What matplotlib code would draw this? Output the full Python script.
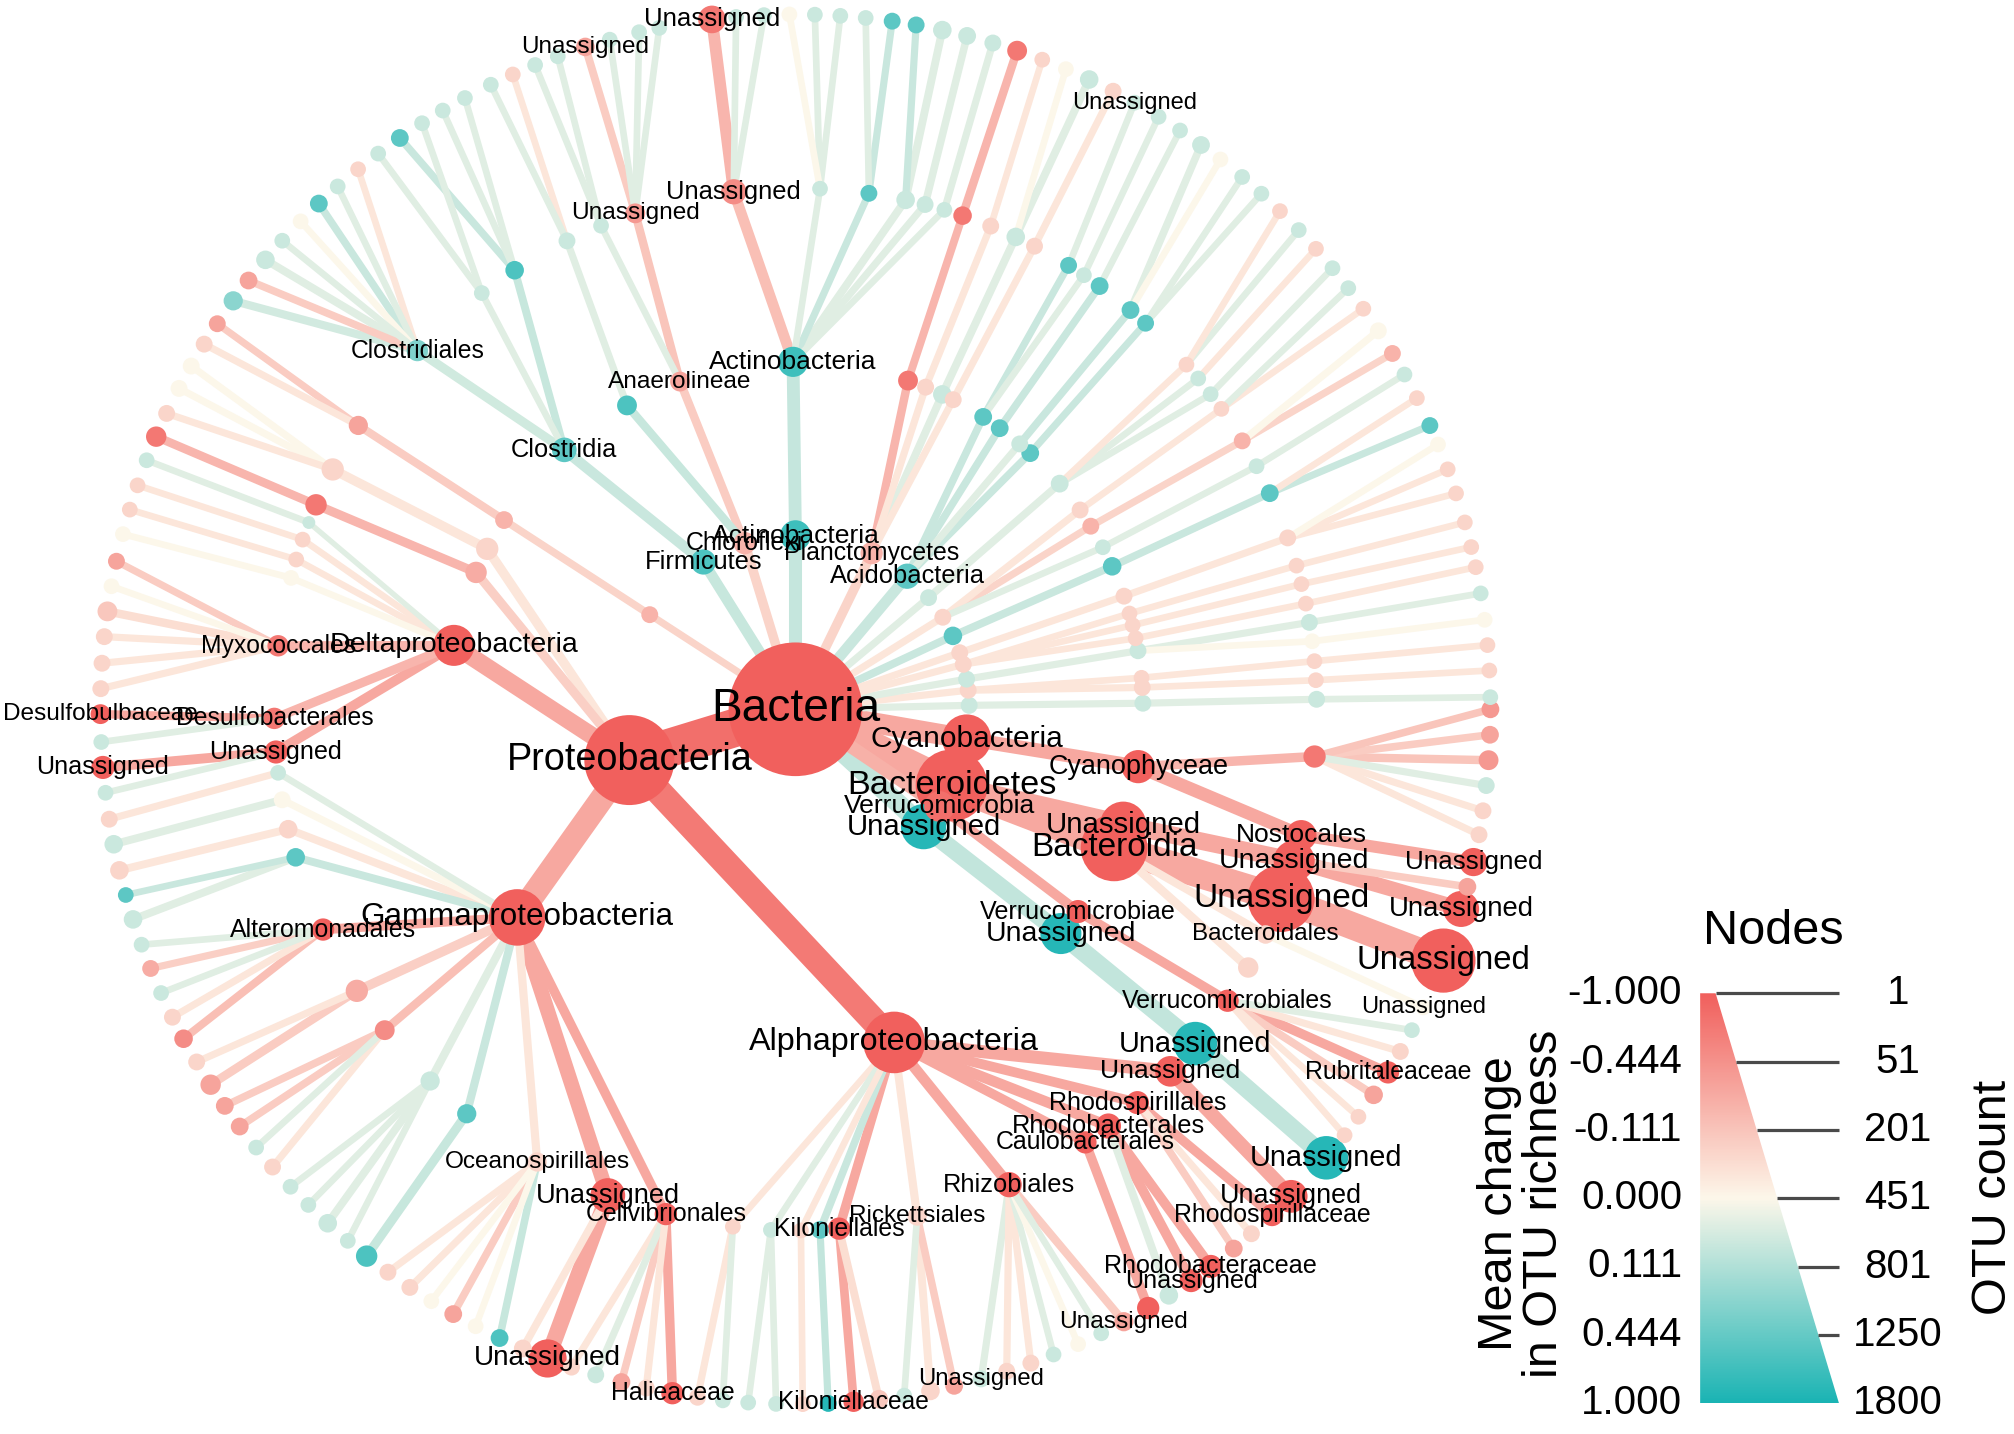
import numpy as np
import matplotlib
matplotlib.use("Agg")
import matplotlib.pyplot as plt
from matplotlib.patches import Circle, Polygon
from matplotlib.collections import LineCollection, PatchCollection
from matplotlib.colors import LinearSegmentedColormap

plt.rcParams['font.family'] = ['Liberation Sans', 'DejaVu Sans']

# ---------------- internal taxa (nodes that have children / named ranks) ----------------
int_id = [
    "bac",
    "pro", "bct", "cya", "ver", "unp", "act", "chl", "fir", "pla", "aci",
    "a1", "a2", "a3", "a4", "a5", "a6", "a7", "a8", "a10",
    "b1", "b2a", "b2b", "b3", "b4a", "b4b", "b4c", "b5", "b6", "b7a",
    "b7b", "b7c", "b8", "b9a", "b9b", "b9c", "b9d", "b10a", "b10b", "b10c",
    "b10d", "acc", "ana", "b12", "cla", "b14",
    "c1", "c2a", "c2b", "c3a", "c3b", "c4a", "c4b", "c4c", "c5", "c6",
    "c7a", "c7b", "c7c", "c8a", "c8b", "c8c", "c9a", "c9b", "c9c", "c9d",
    "c9e", "c10a", "c10b", "c10c", "c10d", "c11a", "c11b", "c11c", "c11d", "c11e",
    "c11f", "c12a", "c12b", "c12d", "c13a", "c13b", "clo", "c14",
    "pb1", "pb2", "del", "gam", "alp",
    "c15", "c16", "c17a", "c17b", "c17c", "c17d", "myx", "dsb", "dun", "c18a",
    "c18b", "c18c", "c18d", "alt", "c18e", "c18f", "c18g", "c18h", "oce", "gun",
    "cel", "c19a", "c19b", "c19c", "c19d", "kil", "ric", "rhi", "cau", "rhb",
    "rhs", "aun",
    "vcl", "u2", "bid", "bun2", "cyp",
    "vor", "u3", "bun3", "bdl", "c20", "bun3b", "nos", "c21",
]
int_parent = [
    None,
    "bac", "bac", "bac", "bac", "bac", "bac", "bac", "bac", "bac", "bac",
    "bac", "bac", "bac", "bac", "bac", "bac", "bac", "bac", "bac",
    "a1", "a2", "a2", "a3", "a4", "a4", "a4", "a5", "a6", "a7",
    "a7", "a7", "a8", "aci", "aci", "aci", "aci", "pla", "pla", "pla",
    "pla", "act", "chl", "chl", "fir", "a10",
    "b1", "b2a", "b2b", "b3", "b3", "b4a", "b4b", "b4c", "b5", "b6",
    "b7a", "b7b", "b7c", "b8", "b8", "b8", "b9a", "b9b", "b9c", "b9d",
    "b9d", "b10a", "b10b", "b10c", "b10d", "acc", "acc", "acc", "acc", "acc",
    "acc", "ana", "ana", "b12", "cla", "cla", "cla", "b14",
    "pro", "pro", "pro", "pro", "pro",
    "pb1", "pb2", "del", "del", "del", "del", "del", "del", "del", "gam",
    "gam", "gam", "gam", "gam", "gam", "gam", "gam", "gam", "gam", "gam",
    "gam", "alp", "alp", "alp", "alp", "alp", "alp", "alp", "alp", "alp",
    "alp", "alp",
    "ver", "unp", "bct", "bct", "cya",
    "vcl", "u2", "bid", "bid", "bid", "bun2", "cyp", "cyp",
]
int_label = [
    "Bacteria",
    "Proteobacteria", "Bacteroidetes", "Cyanobacteria", "Verrucomicrobia", "Unassigned",
    "Actinobacteria", "Chloroflexi", "Firmicutes", "Planctomycetes", "Acidobacteria",
    "", "", "", "", "", "", "", "", "",
    "", "", "", "", "", "", "", "", "", "",
    "", "", "", "", "", "", "", "", "", "",
    "", "Actinobacteria", "Anaerolineae", "", "Clostridia", "",
    "", "", "", "", "", "", "", "", "", "",
    "", "", "", "", "", "", "", "", "", "",
    "", "", "", "", "", "", "", "", "", "",
    "Unassigned", "Unassigned", "", "", "", "", "Clostridiales", "",
    "", "", "Deltaproteobacteria", "Gammaproteobacteria", "Alphaproteobacteria",
    "", "", "", "", "", "", "Myxococcales", "Desulfobacterales", "Unassigned", "",
    "", "", "", "Alteromonadales", "", "", "", "", "Oceanospirillales", "Unassigned",
    "Cellvibrionales", "", "", "", "", "Kiloniellales", "Rickettsiales", "Rhizobiales", "Caulobacterales", "Rhodobacterales",
    "Rhodospirillales", "Unassigned",
    "Verrucomicrobiae", "Unassigned", "Bacteroidia", "Unassigned", "Cyanophyceae",
    "Verrucomicrobiales", "Unassigned", "Unassigned", "Bacteroidales", "", "Unassigned", "Nostocales", "",
]
int_angle = [
    0,
    197, 334, 350.2, 326, 317.5, 90, 107, 122, 64, 50,
    1.3, 6.3, 10, 15, 19, 25, 32, 40, 147,
    1.0, 3.6, 5.2, 9.7, 11.8, 14.0, 16.0, 19.0, 24.3, 27.8,
    31.8, 35.0, 40.5, 47.5, 49.8, 54.0, 57.3, 63.0, 65.0, 68.0,
    71.1, 90.4, 109.4, 119.0, 131.7, 147.0,
    1.1, 3.2, 5.3, 7.5, 9.6, 11.7, 13.9, 16.0, 19.2, 24.5,
    27.8, 31.0, 35.2, 37.2, 39.4, 41.4, 47.8, 50.0, 54.3, 56.4,
    58.4, 62.7, 65.0, 68.0, 71.3, 73.4, 75.6, 77.8, 81.9, 87.3,
    96.8, 107.9, 111.9, 116.0, 122.6, 127.0, 136.5, 147.0,
    152.5, 156.8, 169.4, 216.8, 286.5,
    152.6, 156.9, 159.0, 161.0, 163.3, 165.4, 173.0, 181.0, 184.7, 187.0,
    190.0, 193.3, 196.5, 205.0, 212.7, 218.0, 225.5, 230.9, 240.3, 248.9,
    255.6, 263.1, 267.3, 270.6, 272.7, 274.8, 283.5, 294.2, 303.8, 306.9,
    311.0, 316.0,
    324.4, 319.8, 336.5, 340.6, 350.5,
    326.0, 320.1, 338.7, 334.4, 330.3, 343.1, 346.0, 354.8,
]
int_count = [
    1800,
    734, 430, 161, 40, 130, 40, 12, 20, 12, 20,
    3, 3, 3, 3, 3, 5, 3, 3, 3,
    3, 3, 2, 3, 2, 2, 2, 3, 5, 2,
    3, 3, 4, 4, 3, 4, 4, 3, 5, 3,
    7, 38, 7, 7, 18, 4,
    3, 2, 2, 2, 3, 2, 2, 2, 3, 4,
    2, 3, 2, 2, 2, 2, 3, 4, 4, 2,
    3, 3, 5, 3, 5, 2, 3, 5, 3, 2,
    20, 7, 2, 3, 5, 2, 10, 6,
    12, 10, 99, 236, 294,
    12, 10, 1, 2, 2, 2, 10, 10, 14, 2,
    3, 5, 5, 12, 12, 7, 6, 6, 6, 60,
    12, 2, 2, 2, 4, 12, 6, 20, 12, 20,
    14, 40,
    14, 99, 360, 138, 52,
    12, 117, 360, 5, 8, 99, 40, 12,
]
int_change = [
    -1.0,
    -1.0, -1.0, -1.0, -0.8, 0.9, 0.7, -0.2, 0.6, -0.2, 0.5,
    0.05, -0.05, 0.05, -0.05, -0.05, 0.5, -0.05, 0.05, -0.2,
    0.05, -0.05, -0.05, 0.05, -0.05, -0.05, -0.05, -0.05, 0.5, 0.05,
    -0.2, -0.05, 0.05, 0.5, 0.05, 0.5, 0.5, -0.05, 0.05, -0.05,
    -0.7, 0.7, -0.3, 0.6, 0.5, -0.2,
    0.05, -0.05, -0.05, 0.0, 0.05, -0.05, -0.05, -0.05, -0.05, 0.5,
    0.05, -0.2, -0.05, 0.05, 0.05, -0.05, 0.5, 0.5, 0.5, 0.05,
    0.5, -0.05, 0.05, -0.05, -0.7, 0.05, 0.05, 0.05, 0.5, 0.05,
    -0.5, -0.4, 0.05, 0.05, 0.6, 0.05, 0.3, -0.3,
    -0.05, -0.25, -1.0, -1.0, -1.0,
    -0.05, -0.7, 0.05, -0.05, -0.05, 0.0, -0.7, -0.7, -1.0, 0.05,
    0.0, -0.05, 0.5, -1.0, -0.25, -0.5, 0.05, 0.5, -0.05, -1.0,
    -1.0, -0.05, 0.05, -0.05, 0.5, -1.0, -0.05, -1.0, -1.0, -1.0,
    -1.0, -1.0,
    -1.0, 0.9, -1.0, -1.0, -1.0,
    -1.0, 0.9, -1.0, -0.05, -0.05, -1.0, -1.0, -0.7,
]

# ---------------- terminal taxa (outer ring) ----------------
leaf_parent = [
    "c1", "c2a", "c2b", "c3a", "c3b", "c4a", "c4b", "c4c", "c5", "c5",
    "c5", "c6", "c6", "c7a", "c7b", "c7b", "c7c", "c7c", "c8a", "c8b",
    "c8c", "c8c", "c9a", "c9a", "c9b", "c9b", "c9c", "c9d", "c9e", "c10a",
    "c10b", "c10b", "c10c", "c10d", "c11a", "c11b", "c11c", "c11c", "c11d", "c11d",
    "c11e", "c11e", "c11e", "c11f", "c11f", "c11f", "c12a", "c12a", "c12a", "c12a",
    "c12b", "c12b", "c12d", "c12d", "c13a", "c13a", "c13b", "c13a", "c13b", "clo",
    "clo", "clo", "clo", "clo", "clo", "clo", "clo", "c14", "c14",
    "c15", "c15", "c15", "c16", "c17a", "c17b", "c17c", "c17d", "myx", "myx",
    "myx", "myx", "myx", "myx", "dsb", "dsb", "dun", "dun", "c18a", "c18b",
    "c18c", "c18d", "c18d", "alt", "alt", "alt", "alt", "alt", "c18e", "c18e",
    "c18f", "c18f", "c18f", "c18f", "c18g", "c18g", "c18g", "c18g", "c18h", "oce",
    "oce", "oce", "oce", "oce", "oce", "gun", "gun", "cel", "cel", "cel",
    "cel", "cel", "c19a", "c19a", "c19b", "c19b", "c19c", "c19d", "kil", "kil",
    "ric", "ric", "ric", "rhi", "rhi", "rhi", "rhi", "rhi", "rhi", "rhi",
    "cau", "rhb", "rhb", "rhb", "rhs", "rhs", "rhs", "aun",
    "vor", "vor", "vor", "vor", "vor", "vor", "u3", "bun3", "bdl", "bun3b",
    "bun3b", "nos", "c21", "c21", "c21", "c21", "c21", "c21",
]
leaf_label = [
    "", "", "", "", "", "", "", "", "", "",
    "", "", "", "", "", "", "", "", "", "",
    "", "", "", "", "", "", "", "", "Unassigned", "",
    "", "", "", "", "", "", "", "", "", "",
    "", "", "", "", "", "Unassigned", "", "", "", "Unassigned",
    "", "", "", "", "", "", "", "", "", "",
    "", "", "", "", "", "", "", "", "",
    "", "", "", "", "", "", "", "", "", "",
    "", "", "", "", "Desulfobulbaceae", "", "Unassigned", "", "", "",
    "", "", "", "", "", "", "", "", "", "",
    "", "", "", "", "", "", "", "", "", "",
    "", "", "", "", "", "", "Unassigned", "", "", "",
    "", "Halieaceae", "", "", "", "", "", "", "Kiloniellaceae", "",
    "", "", "", "Unassigned", "", "", "", "", "", "Unassigned",
    "", "", "Unassigned", "Rhodobacteraceae", "", "", "Rhodospirillaceae", "Unassigned",
    "", "", "", "Rubritaleaceae", "", "", "Unassigned", "Unassigned", "Unassigned", "Unassigned",
    "", "Unassigned", "", "", "", "", "", "",
]
leaf_angle = [
    1.0, 3.2, 5.3, 7.4, 9.6, 11.8, 13.5, 15.6, 18.1, 20.2,
    22.4, 24.1, 26.6, 28.8, 30.8, 33.0, 35.2, 37.3, 39.4, 41.5,
    43.6, 45.8, 47.9, 50.0, 52.3, 54.3, 56.4, 58.5, 60.8, 62.8,
    65.0, 67.1, 69.2, 71.4, 73.5, 75.7, 77.8, 80.0, 82.0, 84.2,
    86.3, 88.4, 90.5, 92.6, 94.9, 96.9, 101.3, 103.0, 105.5, 107.6,
    110.0, 112.0, 114.0, 116.0, 118.4, 120.5, 122.5, 124.7, 126.9, 129.0,
    131.2, 133.3, 135.4, 137.6, 139.7, 141.9, 144.0, 146.3, 148.3,
    150.4, 152.5, 154.8, 156.9, 159.0, 161.2, 163.3, 165.4, 167.7, 169.8,
    171.9, 174.0, 176.2, 178.3, 180.4, 182.7, 184.8, 186.9, 189.1, 191.2,
    193.4, 195.5, 197.6, 199.8, 201.9, 204.1, 206.3, 208.3, 210.5, 212.7,
    214.8, 216.9, 219.1, 221.2, 223.4, 225.5, 227.7, 229.9, 231.9, 234.1,
    236.3, 238.4, 240.5, 242.6, 244.8, 246.9, 249.1, 251.2, 253.3, 255.5,
    257.6, 259.8, 261.9, 264.0, 266.1, 268.4, 270.6, 272.7, 274.8, 276.9,
    279.0, 281.2, 283.2, 285.5, 287.7, 289.8, 291.8, 294.0, 296.1, 298.2,
    300.5, 302.5, 304.7, 306.7, 309.1, 311.0, 313.3, 315.5,
    322.2, 324.1, 326.3, 328.5, 330.5, 332.5, 319.8, 338.8, 334.6, 343.3,
    345.2, 347.3, 349.6, 351.6, 353.7, 355.8, 357.9, 0.0,
]
leaf_count = [
    2, 2, 2, 2, 2, 2, 2, 2, 2, 2,
    2, 3, 2, 2, 3, 3, 2, 2, 2, 2,
    2, 2, 2, 2, 2, 4, 2, 2, 2, 3,
    5, 2, 2, 7, 3, 4, 5, 3, 3, 2,
    2, 2, 2, 2, 2, 28, 2, 2, 2, 5,
    2, 2, 2, 2, 2, 2, 2, 4, 2, 2,
    2, 4, 2, 2, 5, 4, 6, 3, 3,
    3, 3, 3, 8, 2, 2, 2, 2, 3, 2,
    7, 3, 3, 3, 7, 2, 14, 2, 3, 5,
    5, 2, 5, 2, 3, 2, 3, 5, 3, 8,
    4, 4, 2, 3, 2, 2, 5, 2, 10, 3,
    3, 2, 4, 2, 4, 4, 80, 3, 3, 4,
    3, 12, 3, 2, 2, 2, 2, 3, 8, 5,
    2, 5, 4, 3, 3, 3, 2, 2, 2, 6,
    12, 5, 14, 14, 4, 3, 12, 50,
    2, 2, 5, 12, 3, 2, 117, 326, 2, 67,
    4, 30, 3, 3, 3, 7, 4, 4,
]
leaf_change = [
    0.05, -0.05, -0.05, 0.0, 0.05, -0.05, -0.05, -0.05, -0.05, -0.05,
    0.0, 0.5, -0.05, 0.05, -0.2, 0.0, -0.05, 0.05, 0.05, -0.05,
    0.05, -0.05, 0.05, 0.05, 0.0, 0.05, 0.05, 0.05, 0.05, -0.05,
    0.05, 0.0, -0.05, -0.7, 0.05, 0.05, 0.05, 0.5, 0.5, 0.05,
    0.05, 0.05, 0.0, 0.05, 0.05, -0.7, 0.05, 0.05, 0.05, -0.3,
    0.05, 0.05, -0.05, 0.05, 0.05, 0.05, 0.05, 0.5, 0.05, -0.05,
    0.05, 0.5, 0.0, 0.05, 0.05, -0.3, 0.25, -0.3, -0.05,
    0.0, 0.0, -0.05, -0.7, 0.05, -0.05, -0.05, 0.0, -0.3, 0.0,
    -0.1, -0.05, -0.05, -0.05, -1.0, 0.05, -1.0, 0.05, -0.05, 0.05,
    -0.05, 0.5, 0.05, 0.05, -0.25, 0.05, -0.05, -0.5, -0.05, -0.3,
    -0.3, -0.3, 0.05, -0.05, 0.05, 0.05, 0.05, 0.05, 0.6, -0.05,
    -0.05, 0.0, -0.3, 0.0, 0.6, -0.05, -1.0, -0.05, 0.05, -0.3,
    -0.05, -1.0, -0.05, 0.05, 0.05, 0.05, -0.05, 0.9, -1.0, -0.1,
    0.05, -0.05, -0.3, 0.05, -0.05, -0.05, 0.05, 0.0, 0.05, -0.3,
    -1.0, 0.05, -1.0, -1.0, -0.3, -0.05, -1.0, -1.0,
    -0.05, -0.05, -0.3, -1.0, -0.05, 0.05, 0.9, -1.0, 0.0, -1.0,
    -0.3, -1.0, -0.05, -0.05, 0.05, -0.4, -0.3, -0.4,
]
# edges whose colour is clearly stronger than the default edge scale
edge_change_override = {"pro": -0.8, "alp": -0.68}

# legend scale values
legend_change_ticks = [-1.0, -0.444, -0.111, 0.0, 0.111, 0.444, 1.0]
legend_count_ticks = [1, 51, 201, 451, 801, 1250, 1800]
max_count = 1800

# ---------------- layout / scales ----------------
W, H = 1568, 1116
ROOT_X, ROOT_Y = 619.0, 552.0
RING = 135.2
R_MIN, R_MAX = 5.0, 52.0
PT_PER_UNIT = (2015.0 / W) * 0.72

RED = (241/255, 96/255, 93/255)
CREAM = (253/255, 247/255, 234/255)
TEAL = (27/255, 180/255, 180/255)
cmap = LinearSegmentedColormap.from_list("rc", [RED, CREAM, TEAL])

def change_pos(v):
    v = np.asarray(v, dtype=float)
    return np.sign(v) * np.sqrt(np.abs(v))

def radius(c):
    c = np.asarray(c, dtype=float)
    return R_MIN + (R_MAX - R_MIN) * np.sqrt((c - 1) / (max_count - 1))

parents = int_parent + leaf_parent
labels = int_label + leaf_label
angles = np.array(int_angle + leaf_angle, dtype=float)
counts = np.array(int_count + leaf_count, dtype=float)
changes = np.array(int_change + leaf_change, dtype=float)
index = {nid: i for i, nid in enumerate(int_id)}
n = len(parents)
pidx = [index[p] if p is not None else -1 for p in parents]
depth = np.zeros(n)
for i in range(n):
    if pidx[i] >= 0:
        depth[i] = depth[pidx[i]] + 1

th = np.deg2rad(angles)
xs = ROOT_X + depth * RING * np.cos(th)
ys = ROOT_Y - depth * RING * np.sin(th)
rs = radius(counts)
s = change_pos(changes)
node_cols = cmap((s + 1) / 2)
# edges: paler version of the node scale (reds keep more saturation than teals)
s_edge = np.where(s < 0, 0.52 * s, 0.27 * np.sqrt(np.abs(s)))
for nid, v in edge_change_override.items():
    s_edge[index[nid]] = float(change_pos(v))
edge_cols = cmap((s_edge + 1) / 2)

fig = plt.figure(figsize=(20.15, 14.34), dpi=100)
ax = fig.add_axes([0, 0, 1, 1])
ax.set_xlim(0, W)
ax.set_ylim(H, 0)
ax.axis('off')

# edges
order_e = sorted([i for i in range(n) if pidx[i] >= 0], key=lambda i: -rs[i])
segs = [[(xs[pidx[i]], ys[pidx[i]]), (xs[i], ys[i])] for i in order_e]
lws = [0.85 * rs[i] * PT_PER_UNIT for i in order_e]
ecs = [edge_cols[i] for i in order_e]
lc = LineCollection(segs, linewidths=lws, colors=ecs, capstyle='butt', zorder=1)
ax.add_collection(lc)

# nodes
order_n = sorted(range(n), key=lambda i: -rs[i])
patches = [Circle((xs[i], ys[i]), rs[i]) for i in order_n]
pc = PatchCollection(patches, facecolors=[node_cols[i] for i in order_n],
                     edgecolors='none', zorder=2)
ax.add_collection(pc)

# labels
for i in range(n):
    if labels[i]:
        fs = 17.0 + 0.35 * (rs[i] - 6)
        ax.text(xs[i], ys[i], labels[i], ha='center', va='center',
                fontsize=fs, color='black', zorder=3)

# ---------------- legend ----------------
L_LEFT, L_TOP, L_BOT = 1323.0, 773.0, 1092.0
L_TR, L_BR = 1335.0, 1431.0
wedge = Polygon([(L_LEFT, L_TOP), (L_TR, L_TOP), (L_BR, L_BOT), (L_LEFT, L_BOT)],
                closed=True, facecolor='none', edgecolor='none', zorder=6)
ax.add_patch(wedge)
grad = cmap(np.linspace(0, 1, 400))[:, None, :]
im = ax.imshow(grad, extent=(L_LEFT, L_BR, L_BOT, L_TOP), aspect='auto',
               origin='upper', zorder=6, interpolation='bilinear')
im.set_clip_path(wedge)
ax.set_xlim(0, W)
ax.set_ylim(H, 0)

for c in legend_count_ticks:
    t = np.sqrt((c - 1) / (max_count - 1))
    y = L_TOP + t * (L_BOT - L_TOP)
    xe = L_TR + t * (L_BR - L_TR)
    ax.plot([xe, L_BR], [y, y], color='#4a4a4a', lw=2.3, zorder=7,
            solid_capstyle='butt')
    ax.text(1477, y, str(c), ha='center', va='center', fontsize=29, zorder=7)

for v in legend_change_ticks:
    t = (float(change_pos(v)) + 1) / 2
    y = L_TOP + t * (L_BOT - L_TOP)
    ax.text(1309, y, f"{v:.3f}", ha='right', va='center', fontsize=29, zorder=7)

ax.text(1380, 725, "Nodes", ha='center', va='center', fontsize=35, zorder=7)
ax.text(1184, 937, "Mean change\nin OTU richness", rotation=90, ha='center',
        va='center', multialignment='center', fontsize=35, linespacing=1.0, zorder=7)
ax.text(1551, 932, "OTU count", rotation=90, ha='center', va='center',
        fontsize=35, zorder=7)

fig.savefig("out.png", dpi=100)
